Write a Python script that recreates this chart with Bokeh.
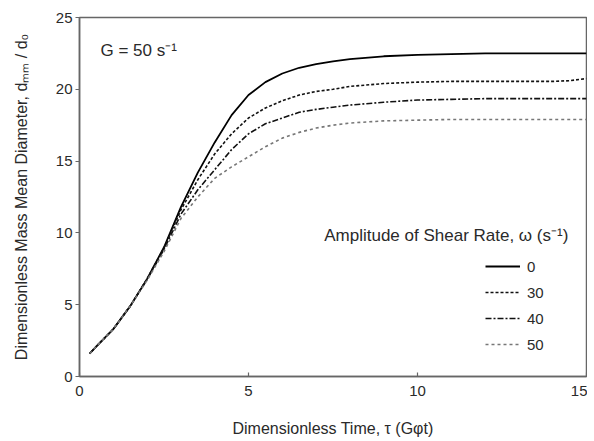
from bokeh.plotting import figure
from bokeh.models import Range1d, Label, Legend, LegendItem, FixedTicker
from bokeh.embed import file_html
from bokeh.resources import INLINE

# Dimensionless time tau
tau = [0.3, 0.5, 1.0, 1.5, 2.0, 2.5, 3.0, 3.5, 4.0, 4.5, 5.0, 5.5, 6.0, 6.5,
       7.0, 7.5, 8.0, 9.0, 10.0, 11.0, 12.0, 13.0, 14.0, 14.5, 15.0]

# Dimensionless mass mean diameter for each amplitude of shear rate
d_0 = [1.6, 2.1, 3.3, 4.9, 6.8, 9.0, 11.8, 14.2, 16.3, 18.2, 19.6, 20.5, 21.1, 21.5,
       21.75, 21.95, 22.1, 22.3, 22.4, 22.45, 22.5, 22.5, 22.5, 22.5, 22.5]
d_30 = [1.6, 2.1, 3.3, 4.9, 6.8, 8.95, 11.6, 13.7, 15.5, 16.9, 18.0, 18.7, 19.2, 19.6,
        19.85, 20.0, 20.2, 20.4, 20.5, 20.55, 20.55, 20.55, 20.55, 20.6, 20.75]
d_40 = [1.6, 2.1, 3.3, 4.9, 6.75, 8.85, 11.3, 13.0, 14.4, 15.8, 16.9, 17.6, 18.0, 18.4,
        18.6, 18.75, 18.9, 19.1, 19.25, 19.3, 19.35, 19.35, 19.35, 19.35, 19.35]
d_50 = [1.6, 2.1, 3.3, 4.9, 6.7, 8.7, 11.0, 12.5, 13.8, 14.6, 15.3, 16.0, 16.6, 17.0,
        17.3, 17.5, 17.65, 17.8, 17.85, 17.9, 17.9, 17.9, 17.9, 17.9, 17.9]

series_labels = ["0", "30", "40", "50"]
x_ticks = [0, 5, 10, 15]
y_ticks = [0, 5, 10, 15, 20, 25]

FONT = "Liberation Sans"
TXT = "#2a2a2a"

p = figure(width=587, height=441, output_backend="svg", toolbar_location=None,
           x_range=Range1d(0, 15), y_range=Range1d(0, 25),
           min_border_left=79, min_border_right=1, min_border_top=17, min_border_bottom=65)

p.grid.visible = False
p.outline_line_color = "#666666"
p.outline_line_width = 1.5
p.background_fill_color = "white"
p.border_fill_color = "white"

for ax in (p.xaxis[0], p.yaxis[0]):
    ax.axis_line_color = "#666666"
    ax.axis_line_width = 1.5
    ax.major_tick_line_color = "#666666"
    ax.major_tick_line_width = 1.2
    ax.minor_tick_line_color = None
    ax.major_label_text_font = FONT
    ax.major_label_text_font_size = "15px"
    ax.major_label_text_color = TXT
    ax.axis_label_text_font = FONT
    ax.axis_label_text_font_size = "16px"
    ax.axis_label_text_font_style = "normal"
    ax.axis_label_text_color = TXT

p.xaxis.ticker = FixedTicker(ticks=x_ticks)
p.yaxis.ticker = FixedTicker(ticks=y_ticks)
p.xaxis.major_tick_in = 4
p.xaxis.major_tick_out = 0
p.xaxis.major_label_standoff = 9
p.yaxis.major_tick_in = 0
p.yaxis.major_tick_out = 4
p.yaxis.major_label_standoff = 3

p.xaxis.axis_label = "Dimensionless Time, τ (Gφt)"
p.xaxis.axis_label_standoff = 21
p.yaxis.axis_label = "Dimensionless Mass Mean Diameter, dₘₘ / d₀"
p.yaxis.axis_label_standoff = 23

r0 = p.line(tau, d_0, line_color="black", line_width=1.8)
r30 = p.line(tau, d_30, line_color="#111111", line_width=1.6, line_dash="3 2")
r40 = p.line(tau, d_40, line_color="#111111", line_width=1.6, line_dash="6 2 2 2")
r50 = p.line(tau, d_50, line_color="#777777", line_width=1.6, line_dash="3 3")

legend = Legend(items=[LegendItem(label=series_labels[0], renderers=[r0]),
                       LegendItem(label=series_labels[1], renderers=[r30]),
                       LegendItem(label=series_labels[2], renderers=[r40]),
                       LegendItem(label=series_labels[3], renderers=[r50])],
                location=(406, 22), padding=0, margin=0, spacing=6,
                glyph_width=35, glyph_height=20, label_height=20, label_standoff=7,
                border_line_color=None, background_fill_alpha=0,
                label_text_font=FONT, label_text_font_size="15px", label_text_color=TXT)
p.add_layout(legend, "center")

p.add_layout(Label(x=7.24, y=9.82, text="Amplitude of Shear Rate, ω (s⁻¹)",
                   text_font=FONT, text_font_size="17px", text_color=TXT,
                   text_baseline="middle", text_align="left"))
p.add_layout(Label(x=0.62, y=22.7, text="G = 50 s⁻¹",
                   text_font=FONT, text_font_size="17px", text_color=TXT,
                   text_baseline="middle", text_align="left"))

open("out.html", "w").write(file_html(p, INLINE))
